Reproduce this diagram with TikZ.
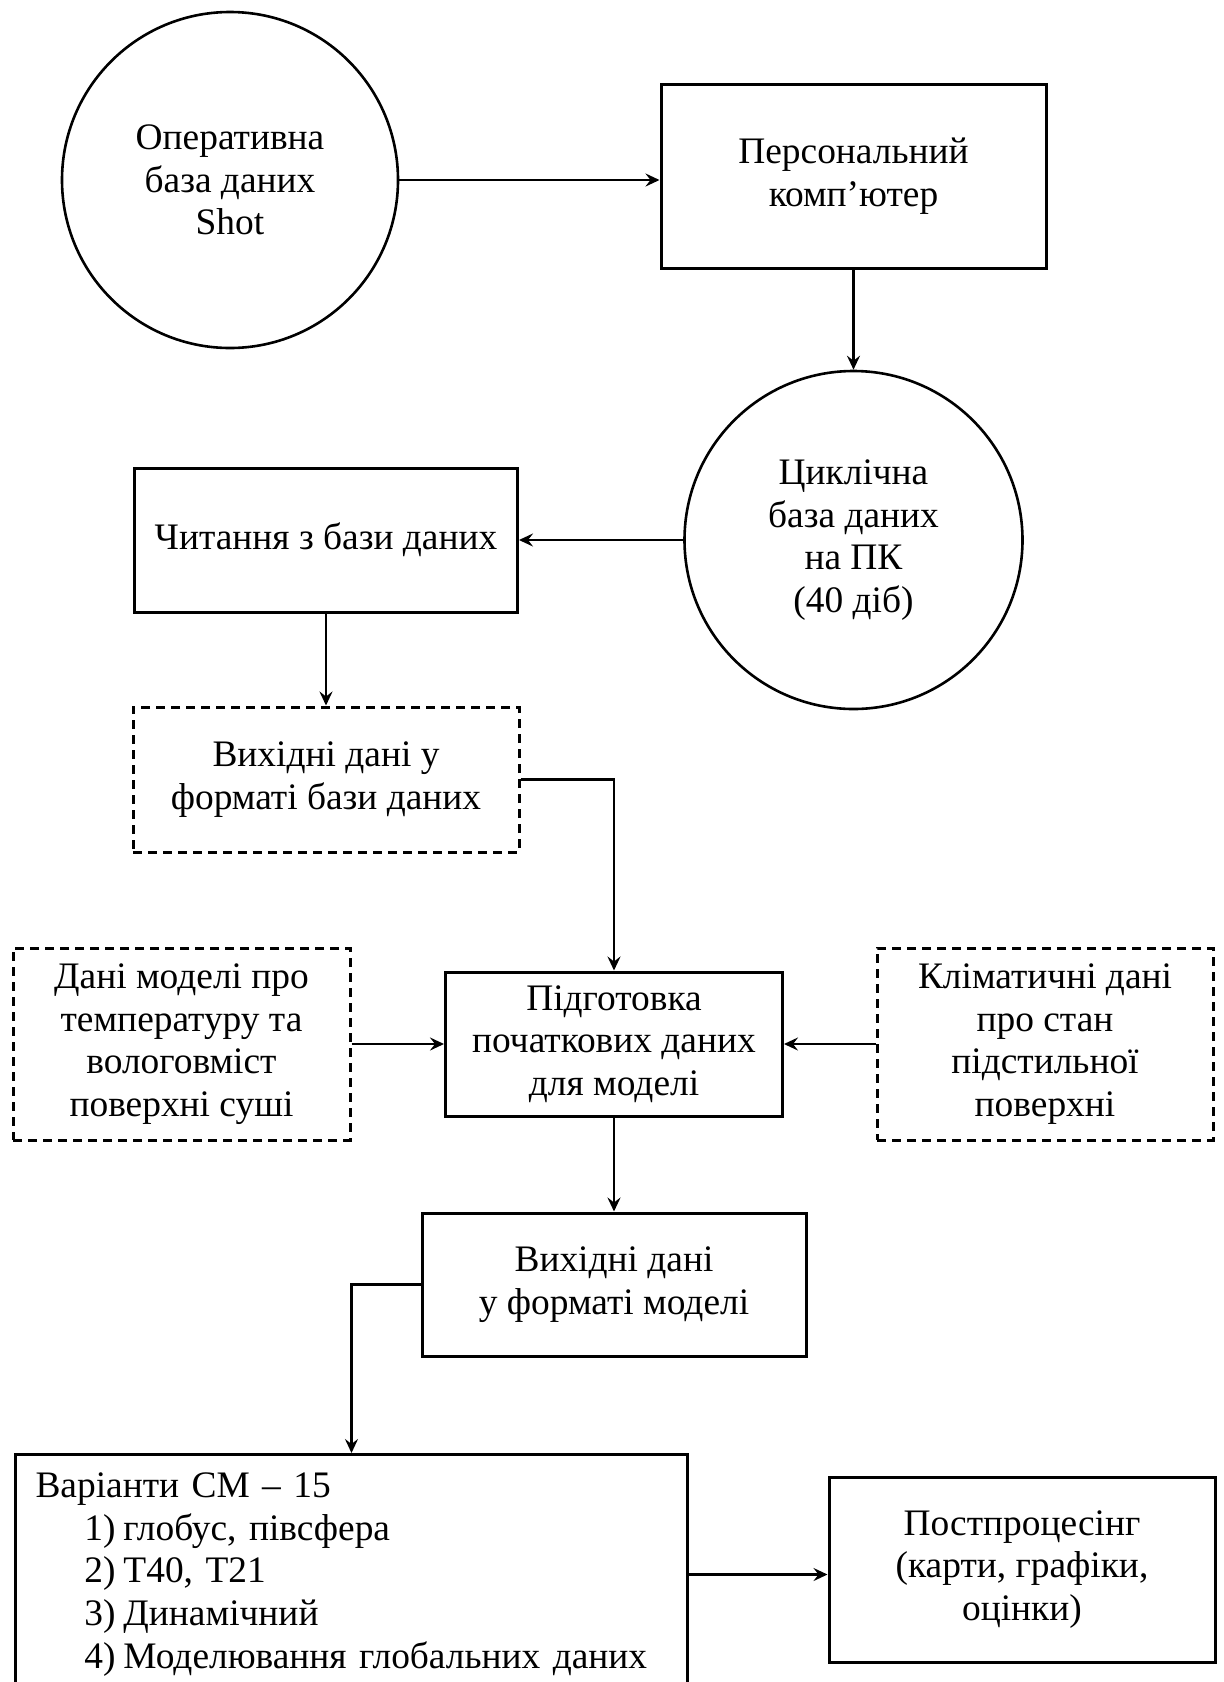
\documentclass[tikz,border=0pt]{standalone}
\usepackage{fontspec}
\setmainfont{Liberation Serif}
\usetikzlibrary{arrows.meta}

\begin{document}
\begin{tikzpicture}[x=0.5pt,y=-0.5pt,
		font=\fontsize{18.7}{21.3}\selectfont,
		box/.style={draw,line width=1.5pt,align=center,inner sep=0pt},
		dbox/.style={box,dash pattern=on 4.5pt off 3pt},
		db/.style={draw,circle,line width=1.3pt,align=center,inner sep=0pt,minimum size=168pt},
		arr/.style={line width=1.4pt,-{Stealth[length=7pt,width=6.5pt,inset=2.5pt]}}]
				
				\useasboundingbox (0,0) rectangle (1224,1682);
				
				\node[db] (op) at (230,180) {Оперативна\\база даних\\Shot};
				\node[box,minimum width=192.5pt,minimum height=92pt] (pc) at (853.5,176) {Персональний\\комп’ютер};
				\node[db,minimum size=169pt] (cycl) at (853.5,540) {Циклічна\\база даних\\на ПК\\(40 діб)};
				\node[box,minimum width=191.5pt,minimum height=72pt] (read) at (326,540) {Читання з бази даних};
				\node[dbox,minimum width=193pt,minimum height=72.5pt] (rawdb) at (326,779.5) {Вихідні дані у\\форматі бази даних};
				
				\node[box,minimum width=168.5pt,minimum height=72pt] (prep) at (614,1044) {Підготовка\\початкових даних\\для моделі};
				\node[dbox,minimum width=168.5pt,minimum height=96pt] (land) at (181.5,1044) {Дані моделі про\\температуру та\\вологовміст\\поверхні суші};
				\node[dbox,minimum width=168pt,minimum height=96pt] (clim) at (1045,1044) {Кліматичні дані\\про стан\\підстильної\\поверхні};
				\node[box,minimum width=192pt,minimum height=71.5pt] (rawmod) at (614,1284.5) {Вихідні дані\\у форматі моделі};
				
				\node[box,anchor=north west,inner xsep=10pt,text width=316pt,align=left,minimum height=120pt] (cm) at (14,1453)
					{Варіанти СМ – 15\\
					\hspace*{24.5pt}\makebox[19.5pt][l]{1)}глобус, півсфера\\
					\hspace*{24.5pt}\makebox[19.5pt][l]{2)}Т40, Т21\\
					\hspace*{24.5pt}\makebox[19.5pt][l]{3)}Динамічний\\
					\hspace*{24.5pt}\makebox[19.5pt][l]{4)}Моделювання глобальних даних};
				\node[box,minimum width=193pt,minimum height=92.5pt] (post) at (1022,1569.5) {Постпроцесінг\\(карти, графіки,\\оцінки)};
				
				\draw[arr] (op.east) -- (op.east -| pc.west);
				\draw[arr] (pc.south) -- (cycl.north);
				\draw[arr] (cycl.west) -- (read.east);
				\draw[arr] (read.south) -- (rawdb.north);
				\draw[arr] (rawdb.east) -| (prep.north);
				\draw[arr] (land.east) -- (prep.west);
				\draw[arr] (clim.west) -- (prep.east);
				\draw[arr] (prep.south) -- (rawmod.north);
				\draw[arr] (rawmod.west) -| (cm.north);
				\draw[arr] (cm.east) -- (cm.east -| post.west);
			\end{tikzpicture}
\end{document}
